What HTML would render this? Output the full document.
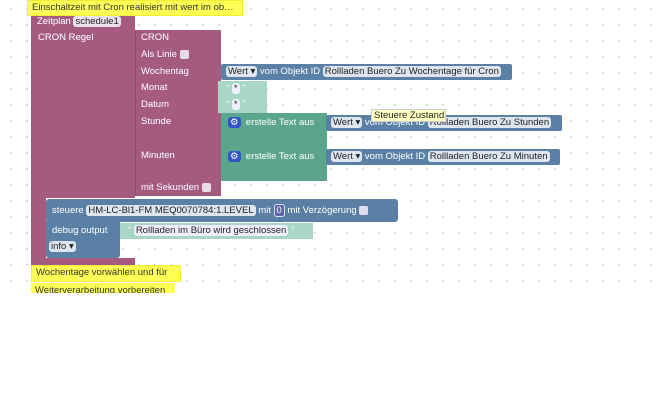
<!DOCTYPE html>
<html><head><meta charset="utf-8"><style>
body{margin:0;width:665px;height:413px;overflow:hidden;background:#fff;font-family:"Liberation Sans",sans-serif;font-size:9.5px;position:relative}
.grid{position:absolute;left:0;top:0;width:665px;height:290px;background-image:radial-gradient(circle,#d8d8d8 0.8px,transparent 1.2px);background-size:16px 16px;background-position:3px 1px}
.b{position:absolute;box-sizing:border-box}
.t{position:absolute;color:#fff;white-space:nowrap;line-height:12px}
.f{display:inline-block;background:#e8e2e8;color:#222;border-radius:3px;padding:0 2px;line-height:11px}
.fb{background:#dde6ef}
.cb{display:inline-block;width:9px;height:9px;background:#e6dde4;border-radius:2px;vertical-align:middle}
.m{background:#a55b80}
.g{background:#5ba58c}
.bl{background:#5b80a5}
.s{background:#a8d6c5}
.y{background:#ffff55;color:#333;position:absolute;padding:0 4px;line-height:14px;box-sizing:border-box;white-space:nowrap;overflow:hidden;border:1px solid #ee3}
</style></head><body>
<div class="grid"></div>
<div class="y" style="left:27px;top:0;width:216px;height:16px">Einschaltzeit mit Cron realisiert mit wert im ob…</div>
<!-- outer magenta -->
<div class="b m" style="left:31px;top:16px;width:104px;height:182px"></div>
<div class="b m" style="left:31px;top:196px;width:15px;height:66px"></div>
<div class="b m" style="left:31px;top:258px;width:104px;height:8px"></div>
<div class="t" style="left:37px;top:16px">Zeitplan <span class="f">schedule1</span></div>
<div class="t" style="left:38px;top:32px">CRON Regel</div>
<!-- inner CRON -->
<div class="b m" style="left:135px;top:30px;width:86px;height:166px;border-left:1px solid #8e4a6c"></div>
<div class="t" style="left:141px;top:32px">CRON</div>
<div class="t" style="left:141px;top:49px">Als Linie <span class="cb"></span></div>
<div class="t" style="left:141px;top:66px">Wochentag</div>
<div class="t" style="left:141px;top:82px">Monat</div>
<div class="t" style="left:141px;top:99px">Datum</div>
<div class="t" style="left:141px;top:116px">Stunde</div>
<div class="t" style="left:141px;top:150px">Minuten</div>
<div class="t" style="left:141px;top:182px">mit Sekunden <span class="cb"></span></div>
<!-- Wochentag -->
<div class="b bl" style="left:221px;top:64px;width:291px;height:16px;border-radius:2px"></div>
<div class="t" style="left:226px;top:66px"><span class="f fb">Wert ▾</span> vom Objekt ID <span class="f fb">Rollladen Buero Zu Wochentage für Cron</span></div>
<div class="b s" style="left:218px;top:81px;width:49px;height:16px"></div>
<div class="b s" style="left:218px;top:97px;width:49px;height:16px"></div>
<div class="t" style="left:226px;top:83px;color:#fff">“ <span class="f" style="background:#eef">*</span> ”</div>
<div class="t" style="left:226px;top:99px;color:#fff">“ <span class="f" style="background:#eef">*</span> ”</div>
<!-- green -->
<div class="b g" style="left:221px;top:113px;width:106px;height:34px"></div>
<div class="b g" style="left:221px;top:147px;width:106px;height:34px"></div>
<div class="t" style="left:228px;top:117px"><span class="f" style="background:#3355cc;color:#fff">⚙</span> &nbsp;erstelle Text aus</div>
<div class="t" style="left:228px;top:151px"><span class="f" style="background:#3355cc;color:#fff">⚙</span> &nbsp;erstelle Text aus</div>
<div class="b bl" style="left:326px;top:115px;width:236px;height:16px;border-radius:2px"></div>
<div class="t" style="left:331px;top:117px"><span class="f fb">Wert ▾</span> vom Objekt ID <span class="f fb">Rollladen Buero Zu Stunden</span></div>
<div class="b bl" style="left:326px;top:149px;width:234px;height:16px;border-radius:2px"></div>
<div class="t" style="left:331px;top:151px"><span class="f fb">Wert ▾</span> vom Objekt ID <span class="f fb">Rollladen Buero Zu Minuten</span></div>
<div class="b" style="left:371px;top:109px;width:75px;height:13px;background:#ffffc4;border:1px solid #ccc;color:#222;padding:0 2px;line-height:11px;white-space:nowrap">Steuere Zustand</div>
<!-- steuere -->
<div class="b bl" style="left:46px;top:199px;width:352px;height:23px;border-radius:3px"></div>
<div class="t" style="left:52px;top:204px">steuere <span class="f fb">HM-LC-Bl1-FM MEQ0070784:1.LEVEL</span> mit <span class="f" style="background:#5b67a5;color:#fff;border:1px solid #dde">0</span> mit Verzögerung <span class="cb" style="background:#dde"></span></div>
<div class="b bl" style="left:46px;top:221px;width:74px;height:37px;border-radius:0 0 3px 3px"></div>
<div class="t" style="left:52px;top:225px">debug output</div>
<div class="t" style="left:49px;top:241px"><span class="f fb">info ▾</span></div>
<div class="b s" style="left:120px;top:223px;width:193px;height:16px"></div>
<div class="t" style="left:128px;top:225px">“ <span class="f" style="background:#eef">Rollladen im Büro wird geschlossen</span> ”</div>
<div class="y" style="left:31px;top:265px;width:150px;height:17px">Wochentage vorwählen und für</div>
<div class="y" style="left:31px;top:283px;width:144px;height:10px;line-height:16px;border:none">Weiterverarbeitung vorbereiten</div>
</body></html>
